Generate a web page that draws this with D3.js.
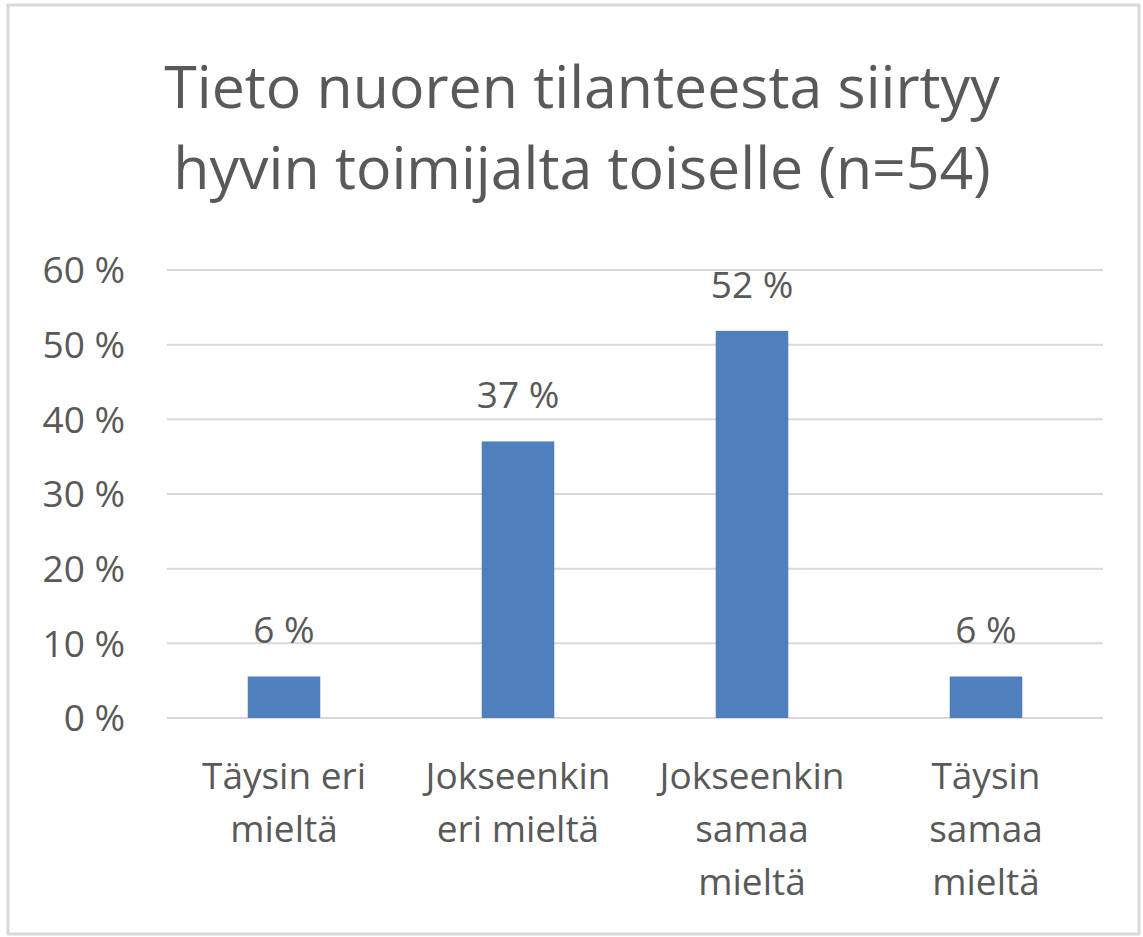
<!DOCTYPE html>
<html lang="fi">
<head>
    <meta charset="UTF-8">
    <title>Tieto nuoren tilanteesta siirtyy hyvin toimijalta toiselle</title>
    <script src="https://d3js.org/d3.v7.min.js"></script>
    <style>
        body {
            margin: 0;
            background: #fff;
            font-family: "Open Sans", "Noto Sans", sans-serif;
        }
        svg text {
            fill: #595959;
        }
        .grid line {
            stroke: #d9d9d9;
            stroke-width: 2px;
        }
    </style>
</head>
<body>
    <svg id="chart" width="1143" height="937"></svg>

    <script>
        // Data
        const categories = ["Täysin eri mieltä", "Jokseenkin eri mieltä", "Jokseenkin samaa mieltä", "Täysin samaa mieltä"];
        const categoryLines = [["Täysin eri", "mieltä"], ["Jokseenkin", "eri mieltä"], ["Jokseenkin", "samaa", "mieltä"], ["Täysin", "samaa", "mieltä"]];
        const values = [0.0556, 0.3704, 0.5185, 0.0556];
        const valueLabels = ["6 %", "37 %", "52 %", "6 %"];
        const yTicks = [0, 0.1, 0.2, 0.3, 0.4, 0.5, 0.6];
        const titleLines = ["Tieto nuoren tilanteesta siirtyy", "hyvin toimijalta toiselle (n=54)"];

        const svg = d3.select("#chart");

        // Outer frame
        svg.append("rect")
            .attr("x", 8).attr("y", 5)
            .attr("width", 1131).attr("height", 929)
            .attr("fill", "none")
            .attr("stroke", "#d9d9d9")
            .attr("stroke-width", 3);

        // Title
        svg.append("g").selectAll("text")
            .data(titleLines)
            .enter()
            .append("text")
            .attr("x", 582)
            .attr("y", (d, i) => 108 + i * 81)
            .attr("text-anchor", "middle")
            .style("font-size", "59px")
            .text(d => d);

        // Scales
        const x = d3.scaleBand()
            .domain(categories)
            .range([167, 1103])
            .padding(0);

        const y = d3.scaleLinear()
            .domain([0, 0.6])
            .range([718, 270]);

        const barWidth = x.bandwidth() * 0.31;

        // Gridlines
        svg.append("g")
            .attr("class", "grid")
            .selectAll("line")
            .data(yTicks)
            .enter()
            .append("line")
            .attr("x1", 167).attr("x2", 1103)
            .attr("y1", d => y(d)).attr("y2", d => y(d));

        // Y axis labels
        svg.append("g")
            .selectAll("text")
            .data(yTicks)
            .enter()
            .append("text")
            .attr("x", 125)
            .attr("y", d => y(d))
            .attr("dy", "0.36em")
            .attr("text-anchor", "end")
            .style("font-size", "37px")
            .text(d => Math.round(d * 100) + " %");

        // Bars
        svg.append("g")
            .selectAll("rect")
            .data(values)
            .enter()
            .append("rect")
            .attr("x", (d, i) => x(categories[i]) + x.bandwidth() / 2 - barWidth / 2)
            .attr("y", d => y(d))
            .attr("width", barWidth)
            .attr("height", d => y(0) - y(d))
            .attr("fill", "#4f7fbc");

        // Value labels
        svg.append("g")
            .selectAll("text")
            .data(values)
            .enter()
            .append("text")
            .attr("x", (d, i) => x(categories[i]) + x.bandwidth() / 2)
            .attr("y", d => y(d) - 33)
            .attr("text-anchor", "middle")
            .style("font-size", "37px")
            .text((d, i) => valueLabels[i]);

        // Category labels
        const cat = svg.append("g")
            .selectAll("text")
            .data(categories)
            .enter()
            .append("text")
            .attr("text-anchor", "middle")
            .style("font-size", "37px");

        cat.each(function(d, i) {
            d3.select(this).selectAll("tspan")
                .data(categoryLines[i])
                .enter()
                .append("tspan")
                .attr("x", x(d) + x.bandwidth() / 2)
                .attr("y", (t, j) => 789 + j * 53)
                .text(t => t);
        });
    </script>
</body>
</html>
